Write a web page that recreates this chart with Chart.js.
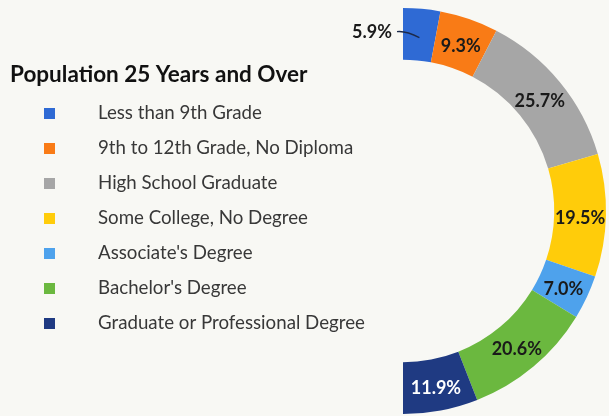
<!DOCTYPE html>
<html>
<head>
<meta charset="utf-8">
<script src="https://cdn.jsdelivr.net/npm/chart.js@4.4.0/dist/chart.umd.min.js"></script>
<style>
    html, body { margin: 0; padding: 0; background: #f8f8f4; }
    canvas { display: block; }
</style>
</head>
<body>
<canvas id="edu-chart" width="609" height="416"></canvas>
<script>
// education attainment, population 25 years and over (percent)
const categories = [
    "Less than 9th Grade",
    "9th to 12th Grade, No Diploma",
    "High School Graduate",
    "Some College, No Degree",
    "Associate's Degree",
    "Bachelor's Degree",
    "Graduate or Professional Degree"
];
const shares = [5.9, 9.3, 25.7, 19.5, 7.0, 20.6, 11.9];
const sliceColors = ["#2f6ad4", "#f97b16", "#a6a6a6", "#ffcc0a", "#4ea2ec", "#6bb83f", "#1f3a82"];
const valueColors = ["#1a1a1a", "#1a1a1a", "#1a1a1a", "#1a1a1a", "#1a1a1a", "#1a1a1a", "#ffffff"];
const chartTitle = "Population 25 Years and Over";

const FONT = "Lato, 'Open Sans', sans-serif";

// title + legend list on the left side of the canvas
const sideLegend = {
    id: "sideLegend",
    afterDraw(chart) {
        const ctx = chart.ctx;
        ctx.save();
        ctx.textBaseline = "middle";
        ctx.textAlign = "left";
        ctx.fillStyle = "#111111";
        ctx.font = "bold 22.5px " + FONT;
        ctx.fillText(chartTitle, 10, 75);

        ctx.font = "18.7px " + FONT;
        categories.forEach((name, i) => {
            const y = 113 + i * 35;
            ctx.fillStyle = sliceColors[i];
            ctx.fillRect(44, y - 5, 11, 11);
            ctx.fillStyle = "#383838";
            ctx.fillText(name, 98, y);
        });
        ctx.restore();
    }
};

// percentage labels on each slice (first one sits outside with a leader line)
const valueLabels = {
    id: "valueLabels",
    afterDatasetsDraw(chart) {
        const ctx = chart.ctx;
        const meta = chart.getDatasetMeta(0);
        ctx.save();
        ctx.font = "bold 18px " + FONT;
        ctx.textBaseline = "middle";
        meta.data.forEach((arc, i) => {
            const p = arc.getProps(["x", "y", "startAngle", "endAngle", "innerRadius", "outerRadius"], true);
            const mid = (p.startAngle + p.endAngle) / 2;
            const r = (p.innerRadius + p.outerRadius) / 2;
            const px = p.x + r * Math.cos(mid);
            const py = p.y + r * Math.sin(mid) + 3;
            const text = shares[i].toFixed(1) + "%";
            if (i === 0) {
                const sx = p.x - 6;
                const sy = py - 6;
                ctx.strokeStyle = "#1c2a4a";
                ctx.lineWidth = 1.3;
                ctx.beginPath();
                ctx.moveTo(sx, sy);
                ctx.quadraticCurveTo(sx + 9, sy - 1, px, py);
                ctx.stroke();
                ctx.fillStyle = "#1a1a1a";
                ctx.textAlign = "right";
                ctx.fillText(text, sx - 5, sy + 1);
            } else {
                ctx.fillStyle = valueColors[i];
                ctx.textAlign = "center";
                ctx.fillText(text, px, py);
            }
        });
        ctx.restore();
    }
};

const ctx = document.getElementById("edu-chart").getContext("2d");
new Chart(ctx, {
    type: "doughnut",
    data: {
        labels: categories,
        datasets: [{
            data: shares,
            backgroundColor: sliceColors,
            borderWidth: 0
        }]
    },
    options: {
        responsive: false,
        animation: false,
        rotation: 0,
        circumference: 180,
        cutout: "74.5%",
        layout: { padding: { left: 403, right: 3, top: 8, bottom: 2 } },
        plugins: {
            legend: { display: false },
            tooltip: { enabled: false },
            title: { display: false }
        }
    },
    plugins: [sideLegend, valueLabels]
});
</script>
</body>
</html>
